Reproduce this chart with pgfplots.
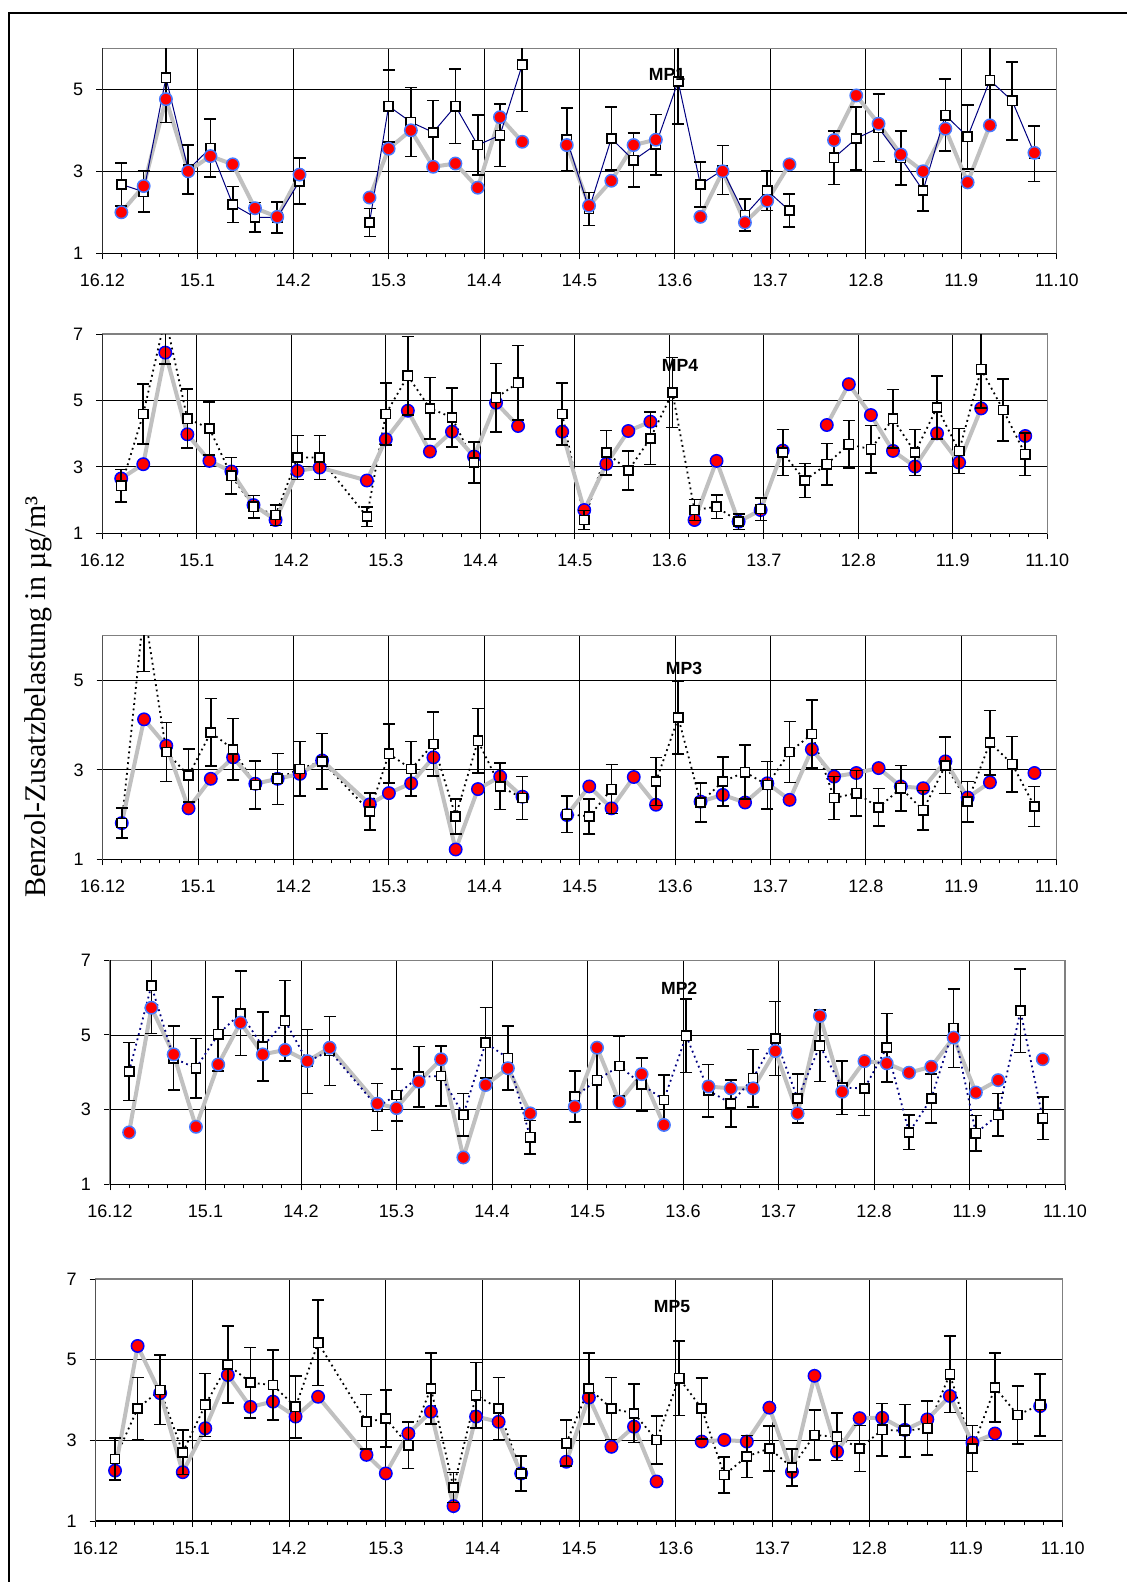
\documentclass[border=0pt]{standalone}
\usepackage{fontspec}
\setmainfont{Liberation Serif}
\setsansfont{Liberation Sans}
\usepackage{pgfplots}
\usepackage{pgfplotstable}
\pgfplotsset{compat=1.18}

\definecolor{silverline}{RGB}{192,192,192}
\definecolor{navyline}{RGB}{0,0,128}
\definecolor{lightedge}{RGB}{70,120,255}
\newcommand\tickfont{\sffamily\fontsize{9}{10.5}\selectfont}

\pgfplotstableread{
x r s e
6 2.00 2.68 0.52
13 2.64 2.50 0.50
20 4.76 5.28 1.09
27 3.00 3.04 0.60
34 3.37 3.57 0.71
41 3.17 2.19 0.44
48 2.10 1.88 0.36
55 1.89 1.87 0.38
62 2.92 2.76 0.56
69 nan nan nan
84 2.36 1.75 0.34
90 3.55 4.59 0.88
97 4.00 4.20 0.84
104 3.11 3.95 0.78
111 3.19 4.59 0.91
118 2.60 3.64 0.73
125 4.32 3.88 0.76
132 3.72 5.60 1.14
139 nan nan nan
146 3.64 3.78 0.76
153 2.16 2.08 0.40
160 2.77 3.80 0.77
167 3.64 3.27 0.66
174 3.77 3.65 0.74
181 nan 5.19 1.03
188 1.89 2.68 0.55
195 3.00 3.03 0.60
202 1.75 1.93 0.39
209 2.28 2.53 0.49
216 3.17 2.04 0.40
223 nan nan nan
230 3.76 3.33 0.65
237 4.85 3.80 0.77
244 4.16 4.06 0.82
251 3.41 3.33 0.66
258 3.00 2.53 0.50
265 4.04 4.37 0.88
272 2.73 3.84 0.78
279 4.12 5.22 1.06
286 nan 4.72 0.95
293 3.45 3.43 0.68
}\mpone

\pgfplotstableread{
x r s e
6 2.65 2.43 0.49
13 3.08 4.59 0.91
20 6.44 7.50 1.40
27 3.98 4.45 0.89
34 3.18 4.16 0.80
41 2.86 2.73 0.55
48 1.85 1.80 0.34
55 1.40 1.55 0.31
62 2.88 3.28 0.66
69 2.98 3.28 0.66
84 2.59 1.50 0.29
90 3.83 4.59 0.94
97 4.69 5.74 1.18
104 3.46 4.76 0.93
111 4.06 4.49 0.89
118 3.31 3.13 0.62
125 4.93 5.08 1.03
132 4.23 5.53 1.12
139 nan nan nan
146 4.06 4.59 0.93
153 1.70 1.40 0.29
160 3.09 3.43 0.67
167 4.08 2.89 0.58
174 4.36 3.86 0.79
181 nan 5.24 1.05
188 1.40 1.70 0.32
195 3.18 1.80 0.36
202 1.35 1.35 0.24
209 1.70 1.73 0.34
216 3.49 3.43 0.69
223 nan 2.59 0.51
230 4.26 3.08 0.62
237 5.49 3.68 0.72
244 4.56 3.53 0.72
251 3.48 4.45 0.88
258 3.01 3.43 0.69
265 4.01 4.79 0.95
272 3.13 3.48 0.68
279 4.76 5.94 1.16
286 nan 4.71 0.94
293 3.93 3.38 0.64
}\mpfour

\pgfplotstableread{
x r s e
6 1.81 1.81 0.34
13 4.13 6.60 1.40
20 3.54 3.40 0.66
27 2.14 2.87 0.59
34 2.80 3.84 0.76
41 3.28 3.46 0.69
48 2.69 2.66 0.54
55 2.80 2.80 0.57
62 2.91 3.02 0.61
69 3.21 3.19 0.62
84 2.23 2.07 0.41
90 2.48 3.36 0.66
97 2.70 3.02 0.61
104 3.28 3.58 0.72
111 1.22 1.96 0.39
118 2.57 3.65 0.72
125 2.85 2.63 0.52
132 2.40 2.37 0.48
139 nan nan nan
146 1.99 2.01 0.41
153 2.63 1.96 0.39
160 2.14 2.57 0.55
167 2.84 nan nan
174 2.22 2.74 0.54
181 nan 4.17 0.82
188 2.29 2.27 0.44
195 2.44 2.74 0.55
202 2.27 2.95 0.60
209 2.70 2.66 0.53
216 2.33 3.40 0.68
223 3.46 3.80 0.76
230 2.85 2.37 0.48
237 2.93 2.48 0.51
244 3.04 2.16 0.42
251 2.63 2.59 0.51
258 2.59 2.10 0.44
265 3.19 3.10 0.63
272 2.38 2.29 0.45
279 2.72 3.61 0.72
286 nan 3.13 0.62
293 2.93 2.18 0.45
}\mpthree

\pgfplotstableread{
x r s e
6 2.39 4.02 0.78
13 5.73 6.32 1.28
20 4.48 4.38 0.86
27 2.54 4.11 0.80
34 4.21 5.02 0.99
41 5.33 5.58 1.13
48 4.48 4.69 0.92
55 4.60 5.38 1.08
62 4.30 4.29 0.86
69 4.66 4.57 0.92
84 3.16 3.07 0.63
90 3.04 3.39 0.70
97 3.75 3.88 0.81
104 4.35 3.90 0.80
111 1.72 2.86 0.57
118 3.66 4.79 0.95
125 4.11 4.38 0.86
132 2.90 2.26 0.45
139 nan nan nan
146 3.08 3.35 0.68
153 4.66 3.79 0.79
160 3.21 4.17 0.80
167 3.95 3.68 0.71
174 2.59 3.26 0.67
181 nan 4.98 0.99
188 3.62 3.51 0.70
195 3.57 3.17 0.63
202 3.57 3.84 0.77
209 4.57 4.91 0.99
216 2.90 3.30 0.65
223 5.51 4.71 0.96
230 3.48 3.59 0.72
237 4.30 3.57 0.73
244 4.24 4.66 0.92
251 3.99 2.39 0.46
258 4.15 3.30 0.66
265 4.93 5.18 1.05
272 3.46 2.37 0.47
279 3.79 2.86 0.57
286 nan 5.65 1.12
293 4.35 2.77 0.57
}\mptwo

\pgfplotstableread{
x r s e
6 2.25 2.54 0.52
13 5.34 3.79 0.77
20 4.17 4.25 0.86
27 2.21 2.70 0.55
34 3.30 3.88 0.78
41 4.62 4.88 0.96
48 3.83 4.43 0.87
55 3.96 4.37 0.87
62 3.59 3.83 0.77
69 4.08 5.42 1.06
84 2.64 3.46 0.68
90 2.18 3.54 0.71
97 3.17 2.88 0.58
104 3.71 4.29 0.88
111 1.37 1.83 0.37
118 3.59 4.12 0.81
125 3.46 3.79 0.77
132 2.18 2.18 0.43
139 nan nan nan
146 2.47 2.93 0.57
153 4.06 4.29 0.88
160 2.84 3.79 0.77
167 3.34 3.67 0.72
174 1.98 3.01 0.60
181 nan 4.54 0.92
188 2.97 3.79 0.75
195 3.01 2.14 0.44
202 2.97 2.60 0.52
209 3.81 2.80 0.56
216 2.22 2.33 0.46
223 4.60 3.13 0.62
230 2.72 3.09 0.59
237 3.55 2.80 0.57
244 3.56 3.26 0.65
251 3.26 3.24 0.65
258 3.52 3.30 0.67
265 4.10 4.64 0.95
272 2.94 2.80 0.57
279 3.17 4.31 0.86
286 nan 3.63 0.72
293 3.85 3.88 0.77
}\mpfive

\pgfplotsset{
  panel/.style={
    scale only axis,
    xmin=0, xmax=300, ymin=1,
    xtick={0,30,60,90,120,150,180,210,240,270,300},
    xticklabels={16.12,15.1,14.2,15.3,14.4,14.5,13.6,13.7,12.8,11.9,11.10},
    minor x tick num=4,
    tick pos=left, tick align=outside,
    major tick length=3pt, minor tick length=2pt,
    tick style={black, line width=0.5pt},
    xmajorgrids, ymajorgrids,
    grid style={black, line width=0.45pt},
    axis line style={draw=gray, line width=0.7pt},
    ticklabel style={font=\tickfont, text=black},
    xticklabel style={yshift=-3.8pt},
    yticklabel style={xshift=-3pt},
    clip marker paths=true,
    unbounded coords=jump,
  },
  six/.style={ymax=6, ytick={1,3,5}, yticklabels={1,3,5}},
  seven/.style={ymax=7, ytick={1,3,5,7}, yticklabels={1,3,5,7}},
  greyline/.style={draw=silverline, line width=2pt, no marks},
  reddots/.style={only marks, mark=*, mark size=3.1pt, mark options={fill=red, draw=#1, line width=0.75pt}},
  squares/.style={only marks, mark=square*, mark size=2.3pt,
    mark options={fill=white, draw=black, line width=0.8pt},
    error bars/.cd, y dir=both, y explicit,
    error bar style={black, line width=0.8pt},
    error mark options={rotate=90, mark size=3pt, line width=0.8pt, black}},
  dotline/.style={draw=#1, line width=0.9pt, dash pattern=on 0.9pt off 1.8pt, no marks},
}
\newcommand\mplabel[3]{\node[font=\sffamily\bfseries\fontsize{8.8}{10}\selectfont] at (axis cs:#1,#2) {#3};}
\newcommand\blackLB{\draw[black, line width=0.7pt] (rel axis cs:0,1) -- (rel axis cs:0,0) -- (rel axis cs:1,0);}

\begin{document}
\begin{tikzpicture}
\useasboundingbox (0,0) rectangle (563pt,-791pt);
\draw[line width=0.85pt] (4.5pt,-795pt) -- (4.5pt,-6.65pt) -- (570pt,-6.65pt);

% MP1
\begin{axis}[panel, six, at={(51.15pt,-126.65pt)}, anchor=south west, width=477.2pt, height=102.5pt]
\addplot[greyline] table[x=x,y=r] {\mpone};
\addplot[draw=navyline, line width=0.5pt, no marks] table[x=x,y=s] {\mpone};
\addplot[squares] table[x=x,y=s,y error=e] {\mpone};
\addplot[reddots=lightedge] table[x=x,y=r] {\mpone};
\blackLB
\mplabel{177.5}{5.37}{MP1}
\end{axis}

% MP4
\begin{axis}[panel, seven, at={(51.15pt,-266.65pt)}, anchor=south west, width=472.5pt, height=99.65pt]
\addplot[dotline=black] table[x=x,y=s] {\mpfour};
\addplot[greyline] table[x=x,y=r] {\mpfour};
\addplot[reddots=blue] table[x=x,y=r] {\mpfour};
\addplot[squares] table[x=x,y=s,y error=e] {\mpfour};
\blackLB
\mplabel{183.4}{6.04}{MP4}
\end{axis}

% MP3
\begin{axis}[panel, six, at={(51.35pt,-429.65pt)}, anchor=south west, width=477pt, height=111.8pt]
\addplot[dotline=black] table[x=x,y=s] {\mpthree};
\addplot[greyline] table[x=x,y=r] {\mpthree};
\addplot[reddots=blue] table[x=x,y=r] {\mpthree};
\addplot[squares] table[x=x,y=s,y error=e] {\mpthree};
\blackLB
\mplabel{182.8}{5.26}{MP3}
\end{axis}

% MP2
\begin{axis}[panel, seven, at={(55pt,-592.15pt)}, anchor=south west, width=477.5pt, height=112pt]
\addplot[greyline] table[x=x,y=r] {\mptwo};
\addplot[dotline=navyline] table[x=x,y=s] {\mptwo};
\addplot[squares] table[x=x,y=s,y error=e] {\mptwo};
\addplot[reddots=lightedge] table[x=x,y=r] {\mptwo};
\blackLB
\mplabel{178.8}{6.26}{MP2}
\end{axis}

% MP5
\begin{axis}[panel, seven, at={(47.85pt,-760.5pt)}, anchor=south west, width=483.5pt, height=121pt]
\addplot[dotline=black] table[x=x,y=s] {\mpfive};
\addplot[greyline] table[x=x,y=r] {\mpfive};
\addplot[reddots=blue] table[x=x,y=r] {\mpfive};
\addplot[squares] table[x=x,y=s,y error=e] {\mpfive};
\blackLB
\mplabel{178.8}{6.31}{MP5}
\end{axis}

\node[rotate=90, font=\fontsize{15}{17}\selectfont] at (19.15pt,-348.5pt) {Benzol-Zusatzbelastung in µg/m³};
\end{tikzpicture}
\end{document}
